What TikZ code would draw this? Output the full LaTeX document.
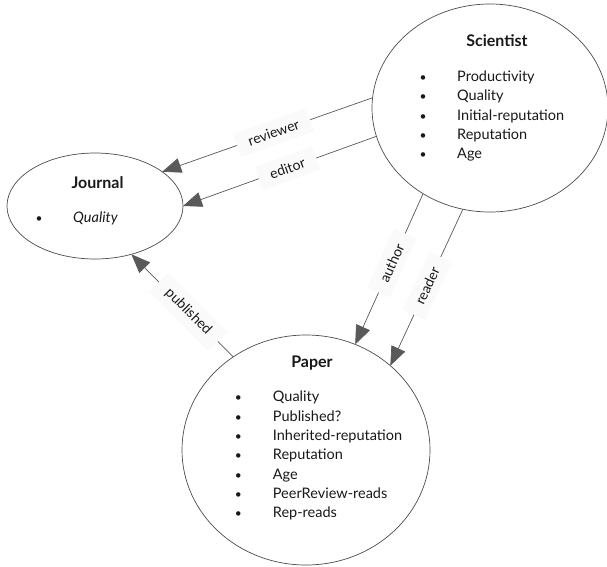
\documentclass[tikz,border=0pt]{standalone}
\usepackage{fontspec}
\setmainfont{Lato}
\usetikzlibrary{arrows.meta,shapes.geometric}
\tikzset{
  ent/.style={draw=black!70, line width=0.7pt, ellipse, inner sep=0pt, outer sep=0pt},
  ttl/.style={font=\fontsize{16}{19}\selectfont\bfseries, text=black!90, inner sep=0pt},
  itm/.style={font=\fontsize{14.5}{17}\selectfont, text=black!90, inner sep=0pt, anchor=mid west},
  bul/.style={font=\fontsize{12}{14}\selectfont, text=black!90, inner sep=0pt, anchor=mid},
  rel/.style={draw=black!65, line width=0.7pt, -{Triangle[length=19pt,width=15pt]}, shorten >=0pt},
  lbl/.style={font=\fontsize{14}{17}\selectfont, text=black!90, fill=black!2, inner xsep=12pt, inner ysep=7pt, sloped},
}
\begin{document}
\begin{tikzpicture}[x=1pt,y=-1pt]
\useasboundingbox (0,0) rectangle (607,566);
\fill[white] (0,0) rectangle (607,566);
% entities
\node[ent, minimum width=236pt, minimum height=208pt] (sci) at (490,108) {};
\node[ent, minimum width=176pt, minimum height=106pt] (jou) at (95,206) {};
\node[ent, minimum width=248pt, minimum height=230pt] (pap) at (306,450) {};
% titles
\node[ttl] (scit) at (497,41) {Scientist};
\node[ttl] (jout) at (97.5,183) {Journal};
\node[ttl] (papt) at (312,363) {Paper};
% scientist list
\foreach \t [count=\i] in {Productivity,Quality,Initial-reputation,Reputation,Age}{
  \node[bul] (scib\i) at (423,{79+19.3*(\i-1)}) {•};
  \node[itm] (scii\i) at (457,{79+19.3*(\i-1)}) {\t};
}
% journal list
\node[bul] (joub1) at (39,220) {•};
\node[itm] (joui1) at (73,220) {\itshape Quality};
% paper list
\foreach \t [count=\i] in {Quality,Published?,Inherited-reputation,Reputation,Age,PeerReview-reads,Rep-reads}{
  \node[bul] (papb\i) at (238.3,{399.3+19.3*(\i-1)}) {•};
  \node[itm] (papi\i) at (272.7,{399.3+19.3*(\i-1)}) {\t};
}
% relations
\draw[rel] (sci.175.2) -- node[lbl, pos=0.47] {reviewer} (jou.27.2);
\draw[rel] (sci.194.4) -- node[lbl, pos=0.46] {editor} (jou.0.7);
\draw[rel] (sci.232.8) -- node[lbl, pos=0.46] {author} (pap.65.6);
\draw[rel] (sci.255.4) -- node[lbl, pos=0.49] {reader} (pap.45.7);
\draw[rel] (pap.128.5) -- node[lbl, pos=0.44] {published} (jou.307.2);
\end{tikzpicture}
\end{document}
